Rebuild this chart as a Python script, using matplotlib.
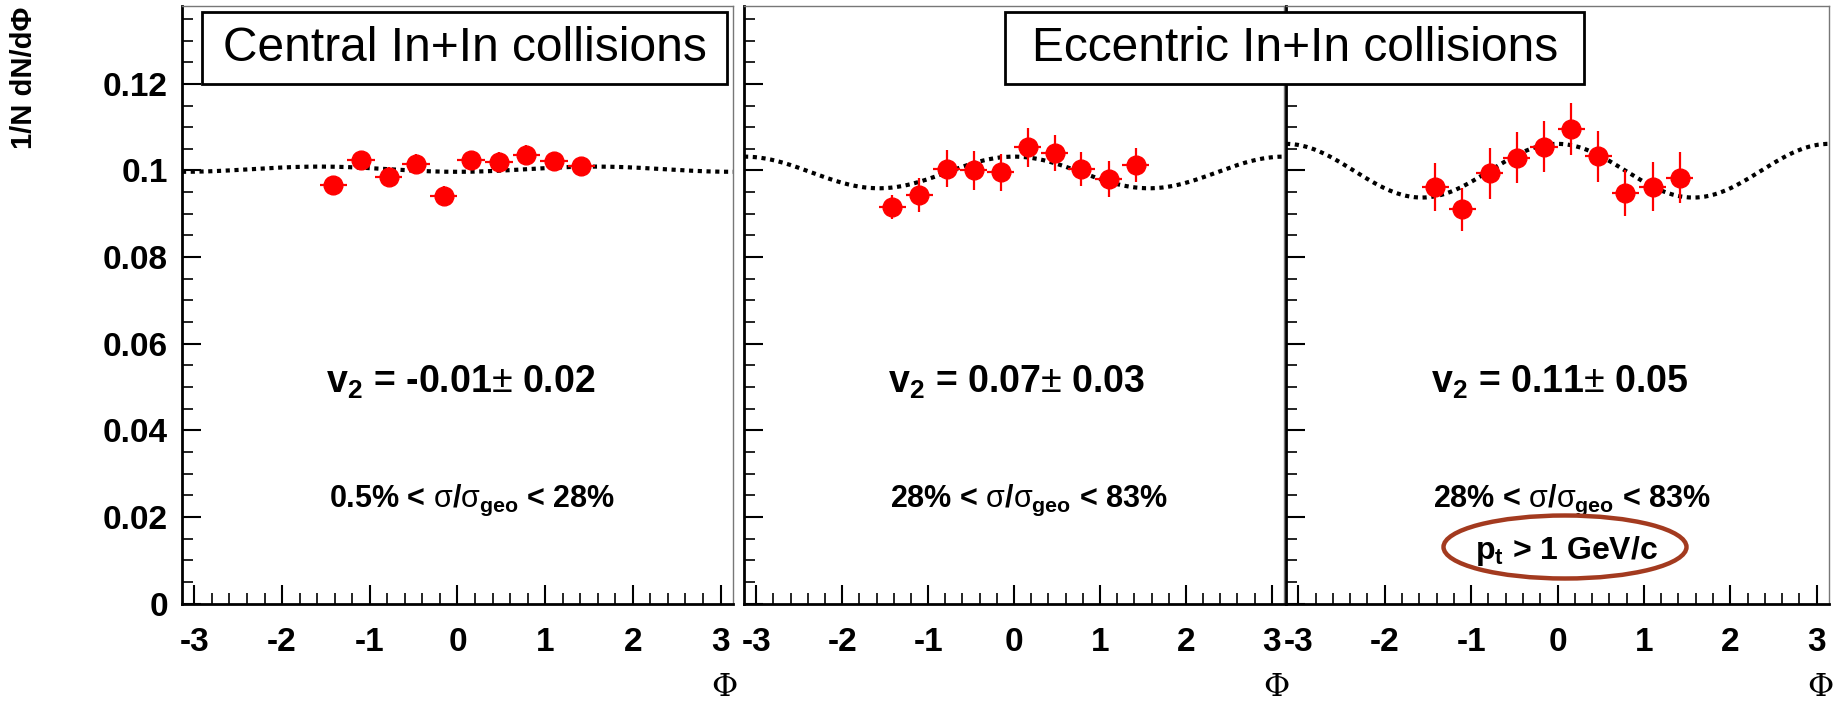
"""
Azimuthal distributions 1/N dN/dPhi for In+In collisions, three centrality/pt selections.
Output: out.png
"""

import numpy as np
import matplotlib
matplotlib.use("Agg")
import matplotlib.pyplot as plt
from matplotlib.patches import Rectangle, Ellipse
from matplotlib.ticker import MultipleLocator, FuncFormatter

# ─── Data ─────────────────────────────────────────────────────────────────────

PHI = [-1.414, -1.100, -0.785, -0.471, -0.157, 0.157, 0.471, 0.785, 1.100, 1.414]
PHI_HALFWIDTH = 0.157

central_y   = [0.0966, 0.1024, 0.0986, 0.1016, 0.0942, 0.1024, 0.1020, 0.1036, 0.1021, 0.1010]
central_err = [0.0022, 0.0022, 0.0022, 0.0022, 0.0022, 0.0022, 0.0022, 0.0022, 0.0022, 0.0022]

ecc_y   = [0.0916, 0.0944, 0.1004, 0.1000, 0.0996, 0.1054, 0.1040, 0.1004, 0.0980, 0.1012]
ecc_err = [0.0027, 0.0039, 0.0043, 0.0044, 0.0043, 0.0045, 0.0042, 0.0039, 0.0041, 0.0039]

ecc_pt_y   = [0.0962, 0.0910, 0.0994, 0.1030, 0.1055, 0.1095, 0.1033, 0.0948, 0.0963, 0.0983]
ecc_pt_err = [0.0056, 0.0050, 0.0059, 0.0058, 0.0059, 0.0060, 0.0059, 0.0053, 0.0057, 0.0059]

# dotted fit curves: norm * (1 + amp * cos(2 phi))
FIT_NORM = [0.1003, 0.09955, 0.09995]
FIT_AMP  = [-0.006, 0.0367, 0.062]

V2_LABELS = [r"v$_\mathbf{2}$ = -0.01$\pm$ 0.02",
             r"v$_\mathbf{2}$ = 0.07$\pm$ 0.03",
             r"v$_\mathbf{2}$ = 0.11$\pm$ 0.05"]
CENT_LABELS = [r"0.5% < $\sigma$/$\sigma_\mathbf{geo}$ < 28%",
               r"28% < $\sigma$/$\sigma_\mathbf{geo}$ < 83%",
               r"28% < $\sigma$/$\sigma_\mathbf{geo}$ < 83%"]

# ─── Style ────────────────────────────────────────────────────────────────────

plt.rcParams["font.family"] = ["Liberation Sans", "DejaVu Sans"]
plt.rcParams["mathtext.fontset"] = "custom"
plt.rcParams["mathtext.rm"] = "Liberation Sans"
plt.rcParams["mathtext.it"] = "Liberation Sans"
plt.rcParams["mathtext.bf"] = "Liberation Sans:bold"

fig = plt.figure(figsize=(18.38, 7.08), dpi=100)

positions = [
    [0.0990, 0.1473, 0.2998, 0.8444],
    [0.4048, 0.1473, 0.2938, 0.8444],
    [0.6997, 0.1473, 0.2954, 0.8444],
]
series = [(central_y, central_err), (ecc_y, ecc_err), (ecc_pt_y, ecc_pt_err)]

phi_line = np.linspace(-np.pi, np.pi, 400)

for i, pos in enumerate(positions):
    ax = fig.add_axes(pos)
    yv, ye = series[i]

    ax.plot(phi_line, FIT_NORM[i] * (1 + FIT_AMP[i] * np.cos(2 * phi_line)),
            color="black", lw=3, linestyle=(0, (1, 1.1)), zorder=2)
    ax.errorbar(PHI, yv, yerr=ye, xerr=PHI_HALFWIDTH, fmt="o", color="red",
                ms=13.5, elinewidth=1.6, capsize=0, zorder=3)

    ax.set_xlim(-np.pi, np.pi)
    ax.set_ylim(0, 0.138)
    ax.xaxis.set_major_locator(MultipleLocator(1))
    ax.xaxis.set_minor_locator(MultipleLocator(0.2))
    ax.yaxis.set_major_locator(MultipleLocator(0.02))
    ax.yaxis.set_minor_locator(MultipleLocator(0.005))
    ax.tick_params(which="both", direction="in", top=False, right=False)
    ax.tick_params(which="major", length=14, width=1.5)
    ax.tick_params(which="minor", length=8, width=1.2)
    ax.tick_params(axis="x", pad=17, labelsize=24)
    ax.tick_params(axis="y", pad=10, labelsize=24)
    ax.xaxis.set_major_formatter(FuncFormatter(lambda v, p: f"{v:g}"))
    for lab in ax.get_xticklabels():
        lab.set_fontweight("bold")
    if i == 0:
        ax.yaxis.set_major_formatter(FuncFormatter(lambda v, p: f"{v:g}"))
        for lab in ax.get_yticklabels():
            lab.set_fontweight("bold")
    else:
        ax.set_yticklabels([])

    for side in ["left", "bottom"]:
        ax.spines[side].set_linewidth(2)
    for side in ["top", "right"]:
        ax.spines[side].set_linewidth(1)
        ax.spines[side].set_color("#777777")

    ax.text(0.505, 0.051, V2_LABELS[i], transform=ax.get_yaxis_transform(),
            ha="center", va="center", fontsize=27, fontweight="bold")
    ax.text(0.527, 0.0238, CENT_LABELS[i], transform=ax.get_yaxis_transform(),
            ha="center", va="center", fontsize=22, fontweight="bold")

    # x title at right end of each panel
    ax.text(0.985, -0.14, "Φ", transform=ax.transAxes, ha="center", va="center",
            fontsize=23, family="DejaVu Serif")

    if i == 2:
        ax.text(0.516, 0.0122, r"p$_\mathbf{t}$ > 1 GeV/c", transform=ax.get_yaxis_transform(),
                ha="center", va="center", fontsize=23, fontweight="bold")

# pt ellipse drawn in figure pixels
ell = Ellipse((1565 / 1838, 1 - 547 / 708), 243 / 1838, 63 / 708,
              transform=fig.transFigure, fill=False, edgecolor="#a33a1f", lw=3.2)
fig.patches.append(ell)

# title boxes
fig.patches.append(Rectangle((0.110, 0.881), 0.2855, 0.1025, transform=fig.transFigure,
                             fill=True, facecolor="white", edgecolor="black", lw=2, zorder=5))
fig.text(0.2527, 0.932, "Central In+In collisions", ha="center", va="center",
         fontsize=34.5, zorder=6)
fig.patches.append(Rectangle((0.547, 0.881), 0.315, 0.1025, transform=fig.transFigure,
                             fill=True, facecolor="white", edgecolor="black", lw=2, zorder=5))
fig.text(0.7045, 0.932, "Eccentric In+In collisions", ha="center", va="center",
         fontsize=34.5, zorder=6)

# y title
fig.text(0.013, 0.99, "1/N dN/dΦ", rotation=90, ha="center", va="top",
         fontsize=21, fontweight="bold")

fig.savefig("out.png", dpi=100)
